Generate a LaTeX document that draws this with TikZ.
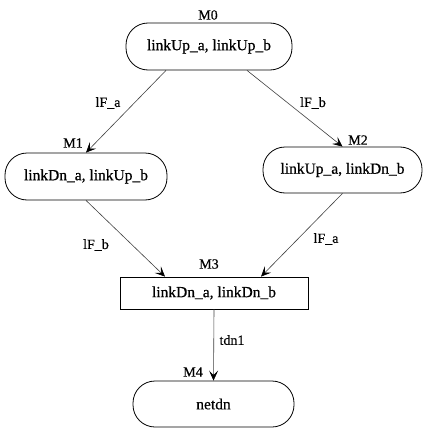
\documentclass[tikz,border=0pt]{standalone}
\usepackage{fontspec}
\setmainfont{Liberation Serif}
\newfontfamily\heavyserif[FakeBold=0.5]{Liberation Serif}
\usetikzlibrary{arrows.meta}
\begin{document}
\begin{tikzpicture}[x=1pt,y=-1pt,
  state/.style={draw,line width=0.8pt,rounded corners=22pt,inner sep=0pt,font=\heavyserif\fontsize{15.5}{17}\selectfont},
  boxstate/.style={draw,line width=0.8pt,inner sep=0pt,font=\heavyserif\fontsize{15.5}{17}\selectfont},
  lab/.style={inner sep=0pt,font=\heavyserif\fontsize{14}{16}\selectfont},
  edge/.style={draw=black!75,line width=0.6pt,-{Stealth[length=10pt,width=9pt,inset=4.5pt,color=black]}}]
\useasboundingbox (0,0) rectangle (423,428);
\node[state,minimum width=166pt,minimum height=47pt] (M0) at (209,46.5) {linkUp\_a, linkUp\_b};
\node[state,minimum width=162pt,minimum height=47pt] (M1) at (86,176.5) {linkDn\_a, linkUp\_b};
\node[state,minimum width=159pt,minimum height=46pt] (M2) at (342.5,170) {linkUp\_a, linkDn\_b};
\node[boxstate,minimum width=188pt,minimum height=32pt] (M3) at (214,293) {linkDn\_a, linkDn\_b};
\node[state,minimum width=161pt,minimum height=46pt] (M4) at (213.5,404) {netdn};
\node[lab] (l0) at (208,15) {M0};
\node[lab] (l1) at (73,143) {M1};
\node[lab] (l2) at (358,140) {M2};
\node[lab] (l3) at (209,264) {M3};
\node[lab] (l4) at (193,372) {M4};
\draw[edge] ([xshift=-43pt]M0.south) -- (M1.north);
\draw[edge] ([xshift=38pt]M0.south) -- (M2.north);
\draw[edge] (M1.south) -- ([xshift=-49pt]M3.north);
\draw[edge] (M2.south) -- ([xshift=47pt]M3.north);
\draw[edge] (M3.south) -- (M4.north);
\node[lab] (e1) at (108,103) {lF\_a};
\node[lab] (e2) at (313,103) {lF\_b};
\node[lab] (e3) at (96,245) {lF\_b};
\node[lab] (e4) at (326,239) {lF\_a};
\node[lab] (e5) at (232,340) {tdn1};
\end{tikzpicture}
\end{document}
